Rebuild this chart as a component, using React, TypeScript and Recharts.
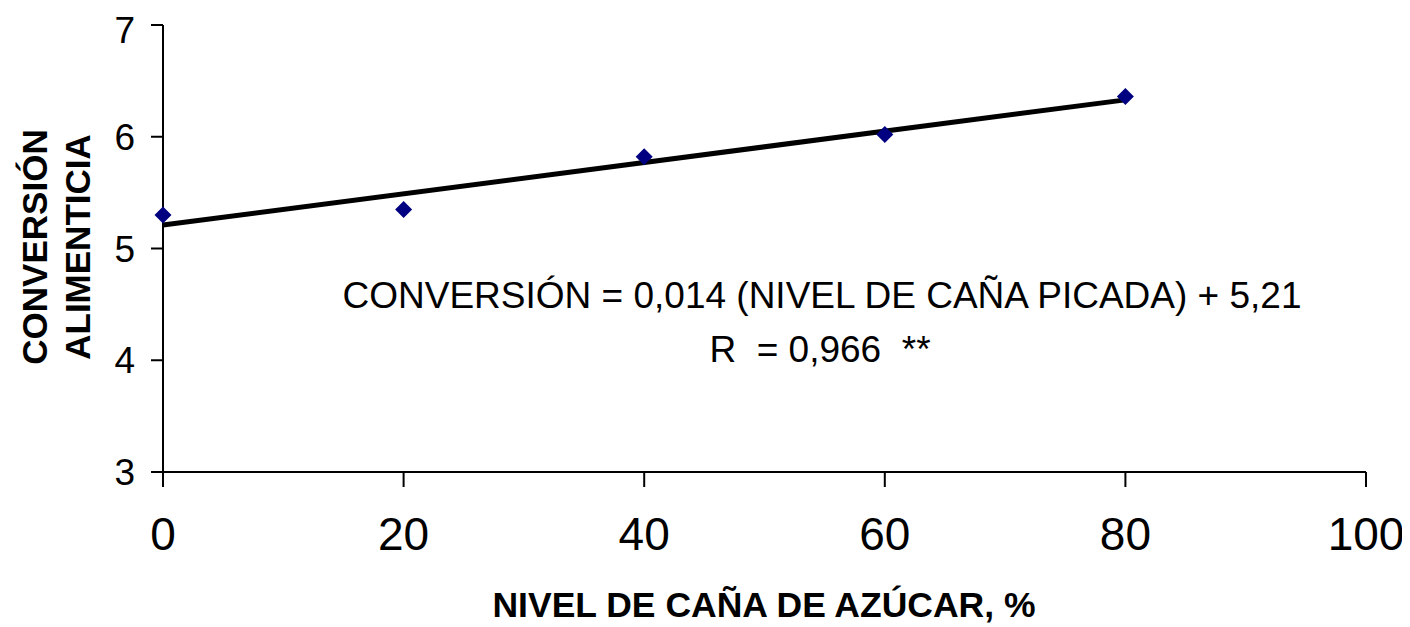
import React from "react";
import { ComposedChart, XAxis, YAxis, Scatter, Line } from "recharts";

const nivel = [0, 20, 40, 60, 80];
const conversion = [5.3, 5.35, 5.82, 6.02, 6.36];
const trendX = [0, 80];
const trendY = [5.21, 6.33];
const xTicks = [0, 20, 40, 60, 80, 100];
const yTicks = [3, 4, 5, 6, 7];
const yTitle = ["CONVERSIÓN", "ALIMENTICIA"];
const xTitle = "NIVEL DE CAÑA DE AZÚCAR, %";
const eqLine1 = "CONVERSIÓN = 0,014 (NIVEL DE CAÑA PICADA) + 5,21";
const eqLine2 = "R  = 0,966  **";

const points = nivel.map((x, i) => ({ x, y: conversion[i] }));
const trend = trendX.map((x, i) => ({ x, y: trendY[i] }));

const FONT = "'Liberation Sans', Arial, sans-serif";

const Diamond = (props: any) => {
  const { cx, cy } = props;
  const r = 8.5;
  return (
    <polygon
      points={`${cx},${cy - r} ${cx + r},${cy} ${cx},${cy + r} ${cx - r},${cy}`}
      fill="#000080"
    />
  );
};

const YTitle = () => (
  <g>
    <text
      transform="translate(39,239) rotate(-90)"
      textAnchor="middle"
      fontFamily={FONT}
      fontWeight="bold"
      fontSize={35}
      fill="#000"
    >
      {yTitle[0]}
    </text>
    <text
      transform="translate(82,239) rotate(-90)"
      textAnchor="middle"
      fontFamily={FONT}
      fontWeight="bold"
      fontSize={35}
      fill="#000"
    >
      {yTitle[1]}
    </text>
  </g>
);

const XTitle = () => (
  <g>
    <text x={756} y={609} textAnchor="middle" fontFamily={FONT} fontWeight="bold" fontSize={35.5} fill="#000">
      {xTitle}
    </text>
    <text x={814} y={300} textAnchor="middle" fontFamily={FONT} fontSize={37} fill="#000">
      {eqLine1}
    </text>
    <text x={812} y={354} textAnchor="middle" fontFamily={FONT} fontSize={37} fill="#000" style={{ whiteSpace: "pre" }}>
      {eqLine2}
    </text>
  </g>
);

export default function App() {
  return (
    <ComposedChart
      width={1402}
      height={619}
      margin={{ top: 17, right: 44, left: 0, bottom: 0 }}
      style={{ background: "#fff" }}
    >
      <XAxis
        type="number"
        dataKey="x"
        domain={[0, 100]}
        ticks={xTicks}
        height={155}
        tickSize={15}
        tickMargin={30}
        axisLine={{ stroke: "#000", strokeWidth: 2 }}
        tickLine={{ stroke: "#000", strokeWidth: 2 }}
        tick={{ fill: "#000", fontSize: 46, fontFamily: FONT }}
        label={{ content: () => <XTitle /> }}
      />
      <YAxis
        type="number"
        dataKey="y"
        domain={[3, 7]}
        ticks={yTicks}
        width={155}
        tickSize={12}
        tickMargin={16}
        axisLine={{ stroke: "#000", strokeWidth: 2 }}
        tickLine={{ stroke: "#000", strokeWidth: 2 }}
        tick={{ fill: "#000", fontSize: 37, fontFamily: FONT }}
        label={{ content: () => <YTitle /> }}
      />
      <Line
        data={trend}
        dataKey="y"
        stroke="#000"
        strokeWidth={5}
        dot={false}
        activeDot={false}
        isAnimationActive={false}
      />
      <Scatter data={points} dataKey="y" shape={<Diamond />} isAnimationActive={false} />
    </ComposedChart>
  );
}
